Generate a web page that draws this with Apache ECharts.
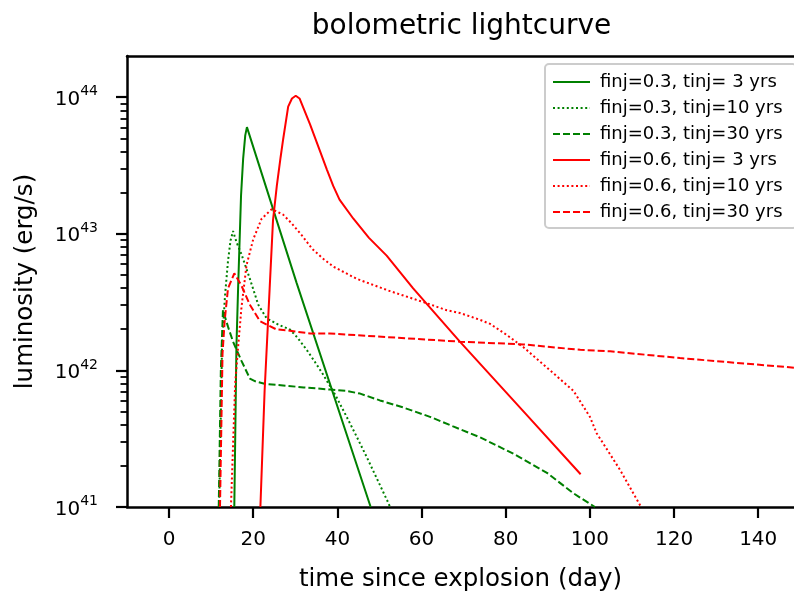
<!DOCTYPE html>
<html>
<head>
<meta charset="utf-8">
<script src="https://cdn.jsdelivr.net/npm/echarts@6/dist/echarts.min.js"></script>
<style>
  html, body {margin: 0; padding: 0; background: #fff;}
  #lightcurve {width: 794px; height: 597px;}
</style>
</head>
<body>
<div id="lightcurve"></div>
<script>
// =====================================================================================================================
// DONNEES (luminosité en erg/s, temps en jours)

var xTicks = [0, 20, 40, 60, 80, 100, 120, 140];
var yTicks = [1e41, 1e42, 1e43, 1e44];
var yMinorTicks = [
  2e41, 3e41, 4e41, 5e41, 6e41, 7e41, 8e41, 9e41,
  2e42, 3e42, 4e42, 5e42, 6e42, 7e42, 8e42, 9e42,
  2e43, 3e43, 4e43, 5e43, 6e43, 7e43, 8e43, 9e43
];

var seriesNames = [
  'finj=0.3, tinj= 3 yrs',
  'finj=0.3, tinj=10 yrs',
  'finj=0.3, tinj=30 yrs',
  'finj=0.6, tinj= 3 yrs',
  'finj=0.6, tinj=10 yrs',
  'finj=0.6, tinj=30 yrs'
];

// finj=0.3, tinj=3
var tG3 = [15.5, 16.0, 16.4, 17.1, 17.6, 18.1, 18.5, 30.3, 47.9];
var lG3 = [1.0e41, 1.48e42, 3.98e42, 1.905e43, 3.55e43, 5.25e43, 6.03e43, 4.37e42, 1.0e41];

// finj=0.3, tinj=10
var tG10 = [11.9, 12.6, 13.3, 14.0, 14.6, 15.2, 16.0, 17.2, 19.2, 21.2, 23.2, 26.3, 28.7, 30.5, 32.7, 34.7,
  36.6, 39.5, 42.2, 44.5, 46.9, 49.5, 52.1, 52.5];
var lG10 = [1.0e41, 1.585e42, 3.548e42, 6.31e42, 8.913e42, 1.047e43, 8.71e42, 7.079e42, 4.677e42, 3.02e42,
  2.399e42, 2.138e42, 1.995e42, 1.738e42, 1.413e42, 1.148e42, 9.333e41, 6.607e41, 4.571e41, 3.311e41,
  2.344e41, 1.585e41, 1.072e41, 1.0e41];

// finj=0.3, tinj=30
var tG30 = [11.8, 12.3, 12.8, 14.0, 15.2, 17.2, 19.2, 20.5, 23.0, 27.1, 32.0, 38.2, 42.0, 45.4, 50.1, 55.5,
  62.0, 67.5, 73.9, 81.8, 89.8, 96.1, 101.2];
var lG30 = [1.0e41, 1.0e42, 2.754e42, 2.089e42, 1.622e42, 1.175e42, 8.71e41, 8.318e41, 7.943e41, 7.762e41,
  7.5e41, 7.244e41, 7.079e41, 6.761e41, 6.026e41, 5.37e41, 4.571e41, 3.89e41, 3.236e41, 2.455e41,
  1.778e41, 1.259e41, 1.0e41];

// finj=0.6, tinj=3
var tR3 = [21.7, 22.7, 23.9, 24.7, 25.6, 26.5, 27.1, 28.3, 29.2, 30.1, 31.0, 33.5, 35.8, 37.5, 39.0, 40.5,
  43.8, 47.5, 51.7, 58.0, 69.1, 85.4, 97.8];
var lR3 = [1.0e41, 7.079e41, 3.981e42, 1.259e43, 2.239e43, 3.631e43, 4.898e43, 8.511e43, 9.772e43, 1.023e44,
  9.772e43, 6.31e43, 4.074e43, 2.951e43, 2.239e43, 1.778e43, 1.288e43, 9.333e42, 6.918e42, 3.981e42,
  1.622e42, 4.571e41, 1.738e41];

// finj=0.6, tinj=10
var tR10 = [14.7, 15.7, 16.4, 17.2, 18.4, 20.0, 22.0, 24.4, 27.1, 29.0, 31.5, 34.0, 36.5, 39.0, 44.6, 52.5,
  60.4, 66.0, 69.1, 73.9, 76.3, 80.2, 84.2, 89.8, 96.1, 100.0, 101.6, 107.2, 111.8, 112.1];
var lR10 = [1.0e41, 7.943e41, 1.479e42, 2.884e42, 5.888e42, 9.12e42, 1.288e43, 1.514e43, 1.38e43, 1.202e43,
  9.772e42, 7.762e42, 6.607e42, 5.754e42, 4.677e42, 3.802e42, 3.162e42, 2.754e42, 2.63e42, 2.344e42,
  2.188e42, 1.82e42, 1.479e42, 1.047e42, 7.079e41, 4.571e41, 3.467e41, 1.862e41, 1.047e41, 1.0e41];

// finj=0.6, tinj=30
var tR30 = [12.1, 12.7, 13.2, 14.0, 15.5, 17.2, 19.2, 21.6, 25.5, 28.7, 33.5, 38.2, 69.1, 84.2, 97.7, 104.8,
  121.4, 148.5];
var lR30 = [1.0e41, 1.318e42, 2.291e42, 3.981e42, 5.129e42, 4.169e42, 3.02e42, 2.291e42, 1.995e42, 1.95e42,
  1.862e42, 1.862e42, 1.622e42, 1.549e42, 1.413e42, 1.38e42, 1.23e42, 1.047e42];

// =====================================================================================================================
// GRAPHIQUE : COURBE DE LUMIERE BOLOMETRIQUE

var fontFamily = 'DejaVu Sans';
var green = '#008000';
var red = '#ff0000';

function pairs(t, l) {
  var out = [];
  for (var i = 0; i < t.length; i++) {
    out.push([t[i], l[i]]);
  }
  return out;
}

function makeSeries(name, t, l, color, dash) {
  return {
    name: name,
    type: 'line',
    data: pairs(t, l),
    symbol: 'none',
    smooth: false,
    clip: true,
    lineStyle: {color: color, width: 2, type: dash},
    itemStyle: {color: color},
    emphasis: {disabled: true}
  };
}

var dotted = [2, 2.6];
var dashed = [7, 3];

var lightcurve = echarts.init(document.getElementById('lightcurve'), null, {renderer: 'canvas'});
var lightcurveOption = {
  animation: false,
  backgroundColor: '#fff',
  textStyle: {fontFamily: fontFamily},
  title: {
    text: 'bolometric lightcurve',
    left: 456.5,
    top: 8,
    textAlign: 'center',
    textStyle: {fontFamily: fontFamily, fontSize: 28, fontWeight: 'normal', color: '#000'}
  },
  legend: {
    orient: 'vertical',
    left: 545,
    top: 64,
    padding: [8, 14, 6, 7],
    itemWidth: 37,
    itemHeight: 20,
    itemGap: 6,
    backgroundColor: 'rgba(255,255,255,0.8)',
    borderColor: '#cccccc',
    borderWidth: 2,
    borderRadius: 4,
    selectedMode: false,
    itemStyle: {color: 'rgba(0,0,0,0)', borderWidth: 0, opacity: 0},
    textStyle: {fontFamily: fontFamily, fontSize: 18, lineHeight: 20, color: '#000', padding: [0, 0, 0, 5]},
    data: seriesNames
  },
  grid: {left: 127, top: 56, width: 667, height: 454.5, containLabel: false},
  xAxis: [
    {
      type: 'value',
      min: -10,
      max: 148.5,
      name: 'time since explosion (day)',
      nameLocation: 'middle',
      nameGap: 60,
      nameTextStyle: {fontFamily: fontFamily, fontSize: 24.5, color: '#000'},
      splitLine: {show: false},
      axisLine: {show: true, onZero: false, lineStyle: {color: '#000', width: 2.5}},
      axisTick: {show: true, customValues: xTicks, length: 11, lineStyle: {color: '#000', width: 2.2}},
      axisLabel: {customValues: xTicks, margin: 23, fontFamily: fontFamily, fontSize: 20, color: '#000'}
    },
    {
      type: 'value',
      position: 'top',
      min: -10,
      max: 148.5,
      splitLine: {show: false},
      axisLine: {show: true, onZero: false, lineStyle: {color: '#000', width: 2.5}},
      axisTick: {show: false},
      axisLabel: {show: false}
    }
  ],
  yAxis: [
    {
      type: 'log',
      logBase: 10,
      position: 'left',
      min: 1e41,
      max: 2e44,
      name: 'luminosity (erg/s)',
      nameLocation: 'middle',
      nameGap: 89,
      nameTextStyle: {fontFamily: fontFamily, fontSize: 24.5, color: '#000'},
      splitLine: {show: false},
      axisLine: {show: true, onZero: false, lineStyle: {color: '#000', width: 2.5}},
      axisTick: {show: true, customValues: yTicks, length: 11, lineStyle: {color: '#000', width: 2.2}},
      axisLabel: {
        customValues: yTicks,
        margin: 29,
        formatter: function (v) {
          return '{b|10}{s|' + Math.round(Math.log10(v)) + '}';
        },
        rich: {
          b: {fontFamily: fontFamily, fontSize: 20, color: '#000', lineHeight: 25, verticalAlign: 'bottom'},
          s: {fontFamily: fontFamily, fontSize: 14, color: '#000', lineHeight: 14, verticalAlign: 'top'}
        }
      }
    },
    {
      // graduations mineures (2..9 x 10^n), placées sur l'axe gauche
      type: 'log',
      logBase: 10,
      position: 'right',
      offset: -667,
      min: 1e41,
      max: 2e44,
      splitLine: {show: false},
      axisLine: {show: false, onZero: false},
      axisTick: {show: true, inside: true, customValues: yMinorTicks, length: 6.5, lineStyle: {color: '#000', width: 1.8}},
      axisLabel: {show: false}
    }
  ],
  series: [
    makeSeries(seriesNames[0], tG3, lG3, green, 'solid'),
    makeSeries(seriesNames[1], tG10, lG10, green, dotted),
    makeSeries(seriesNames[2], tG30, lG30, green, dashed),
    makeSeries(seriesNames[3], tR3, lR3, red, 'solid'),
    makeSeries(seriesNames[4], tR10, lR10, red, dotted),
    makeSeries(seriesNames[5], tR30, lR30, red, dashed)
  ]
};

// application des options au graphique
lightcurve.setOption(lightcurveOption);
</script>
</body>
</html>
